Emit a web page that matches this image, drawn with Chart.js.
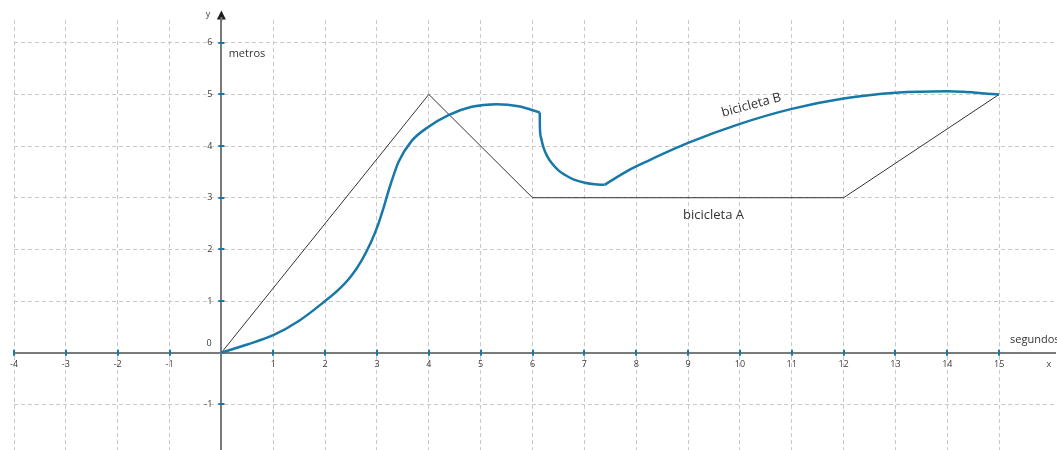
<!DOCTYPE html>
<html>
<head>
<meta charset="utf-8">
<script src="https://cdn.jsdelivr.net/npm/chart.js@4/dist/chart.umd.min.js"></script>
<style>
  html, body { margin: 0; padding: 0; background: #ffffff; }
  canvas { display: block; }
</style>
</head>
<body>
<canvas id="chart" width="1057" height="450"></canvas>
<script>
// Bicicleta A: distance (metros) against time (segundos)
const bikeA = [
  { x: 0, y: 0 }, { x: 4, y: 5 }, { x: 6, y: 3 }, { x: 12, y: 3 }, { x: 15, y: 5 }
];

// Bicicleta B, drawn in three smooth pieces (corners between them)
const bikeBClimb = [
  { x: 0, y: 0 }, { x: 0.5, y: 0.16 }, { x: 1, y: 0.34 }, { x: 1.5, y: 0.62 },
  { x: 2, y: 1.0 }, { x: 2.25, y: 1.21 }, { x: 2.5, y: 1.48 }, { x: 2.7, y: 1.78 },
  { x: 2.88, y: 2.13 }, { x: 3.03, y: 2.5 }, { x: 3.12, y: 2.78 }, { x: 3.19, y: 3.02 },
  { x: 3.27, y: 3.28 }, { x: 3.42, y: 3.7 }, { x: 3.67, y: 4.1 },
  { x: 3.99, y: 4.37 }, { x: 4.38, y: 4.6 }, { x: 4.83, y: 4.76 }, { x: 5.31, y: 4.81 },
  { x: 5.73, y: 4.77 }, { x: 6.14, y: 4.65 }
];
const bikeBDrop = [
  { x: 6.14, y: 4.65 }, { x: 6.142, y: 4.4 }, { x: 6.16, y: 4.18 }, { x: 6.21, y: 3.98 },
  { x: 6.28, y: 3.81 }, { x: 6.37, y: 3.67 }, { x: 6.5, y: 3.53 }, { x: 6.63, y: 3.44 },
  { x: 6.8, y: 3.35 }, { x: 7.01, y: 3.29 }, { x: 7.2, y: 3.26 }, { x: 7.39, y: 3.25 }
];
const bikeBRise = [
  { x: 7.39, y: 3.25 }, { x: 7.85, y: 3.53 }, { x: 8.24, y: 3.72 }, { x: 9.0, y: 4.06 },
  { x: 10.0, y: 4.43 }, { x: 11.0, y: 4.72 }, { x: 12.0, y: 4.92 }, { x: 13.0, y: 5.03 },
  { x: 14.0, y: 5.06 }, { x: 15.0, y: 5.0 }
];

// Axis ranges and labelled ticks
const xRange = [-4, 16.08];
const yRange = [-1.883, 6.44];
const xLabelled = [-4, -3, -2, -1, 1, 2, 3, 4, 5, 6, 7, 8, 9, 10, 11, 12, 13, 14, 15];
const yLabelled = [-1, 1, 2, 3, 4, 5, 6];

const BLUE = '#1878a8';
const INK = '#333333';
const AXIS = '#7a7a7a';
const TICK_TEXT = '#3c3c3c';
const FONT = '"Open Sans", "DejaVu Sans", sans-serif';

const axisDecor = {
  id: 'axisDecor',
  beforeDatasetsDraw(chart) {
    const { ctx, scales: { x, y } } = chart;
    const x0 = x.getPixelForValue(0);
    const y0 = y.getPixelForValue(0);
    ctx.save();
    // arrow head on the y axis
    ctx.fillStyle = '#1e1e1e';
    ctx.beginPath();
    ctx.moveTo(x0, 10.5);
    ctx.lineTo(x0 - 4.5, 19.5);
    ctx.lineTo(x0 + 4.5, 19.5);
    ctx.closePath();
    ctx.fill();
    ctx.strokeStyle = AXIS;
    ctx.lineWidth = 2;
    ctx.beginPath();
    ctx.moveTo(x0, 17);
    ctx.lineTo(x0, y.top + 1);
    ctx.stroke();
    // blue tick marks across both axes
    ctx.fillStyle = BLUE;
    x.ticks.forEach(t => {
      if (xLabelled.includes(t.value)) {
        ctx.fillRect(Math.round(x.getPixelForValue(t.value)) - 1, y0 - 3, 2, 6);
      }
    });
    y.ticks.forEach(t => {
      if (yLabelled.includes(t.value)) {
        ctx.fillRect(x0 - 3, Math.round(y.getPixelForValue(t.value)) - 1, 6, 2);
      }
    });
    // y tick labels, left of the axis
    ctx.fillStyle = TICK_TEXT;
    ctx.font = '9px ' + FONT;
    ctx.textAlign = 'right';
    ctx.textBaseline = 'middle';
    y.ticks.forEach(t => {
      if (yLabelled.includes(t.value)) {
        ctx.fillText(String(t.value), x0 - 9, y.getPixelForValue(t.value));
      }
    });
    ctx.textAlign = 'center';
    ctx.fillText('0', x.getPixelForValue(-0.24), y.getPixelForValue(0.17));
    ctx.fillText('x', x.getPixelForValue(15.96), y.getPixelForValue(-0.22));
    ctx.fillText('y', x.getPixelForValue(-0.26), y.getPixelForValue(6.54));
    ctx.restore();
  },
  afterDatasetsDraw(chart) {
    const { ctx, scales: { x, y } } = chart;
    ctx.save();
    ctx.fillStyle = INK;
    ctx.textBaseline = 'middle';
    ctx.font = '11px ' + FONT;
    ctx.textAlign = 'left';
    ctx.fillText('metros', x.getPixelForValue(0.14), y.getPixelForValue(5.78));
    ctx.fillText('segundos', x.getPixelForValue(15.21), y.getPixelForValue(0.245));
    ctx.font = '13px ' + FONT;
    ctx.textAlign = 'center';
    ctx.fillText('bicicleta A', x.getPixelForValue(9.49), y.getPixelForValue(2.66));
    ctx.translate(x.getPixelForValue(10.22), y.getPixelForValue(4.79));
    ctx.rotate(-15 * Math.PI / 180);
    ctx.fillText('bicicleta B', 0, 0);
    ctx.restore();
  }
};

const blueLine = (data) => ({
  data,
  borderColor: BLUE,
  borderWidth: 2.5,
  pointRadius: 0,
  cubicInterpolationMode: 'monotone',
  fill: false,
  order: 0
});

new Chart(document.getElementById('chart'), {
  type: 'line',
  data: {
    datasets: [
      blueLine(bikeBClimb),
      blueLine(bikeBDrop),
      blueLine(bikeBRise),
      {
        data: bikeA,
        borderColor: INK,
        borderWidth: 1,
        pointRadius: 0,
        tension: 0,
        fill: false,
        order: 1
      }
    ]
  },
  options: {
    responsive: false,
    animation: false,
    devicePixelRatio: 1,
    layout: { padding: { left: 14, top: 20, right: 0, bottom: 0 } },
    plugins: { legend: { display: false }, tooltip: { enabled: false } },
    scales: {
      x: {
        type: 'linear',
        min: xRange[0],
        max: xRange[1],
        position: { y: 0 },
        grid: {
          color: (c) => (c.tick && c.tick.value > 15 ? 'rgba(0,0,0,0)' : '#c9c9c9'),
          lineWidth: 1,
          drawTicks: false
        },
        border: { display: true, color: AXIS, width: 2, dash: [4, 3] },
        ticks: {
          stepSize: 1,
          includeBounds: false,
          autoSkip: false,
          maxRotation: 0,
          padding: 6,
          color: TICK_TEXT,
          font: { size: 9, family: FONT },
          callback: (v) => (xLabelled.includes(v) ? String(v) : '')
        }
      },
      y: {
        type: 'linear',
        min: yRange[0],
        max: yRange[1],
        position: { x: 0 },
        grid: { color: '#c9c9c9', lineWidth: 1, drawTicks: false },
        border: { display: true, color: AXIS, width: 2, dash: [4, 3] },
        ticks: {
          stepSize: 1,
          includeBounds: false,
          autoSkip: false,
          display: false
        }
      }
    }
  },
  plugins: [axisDecor]
});
</script>
</body>
</html>
